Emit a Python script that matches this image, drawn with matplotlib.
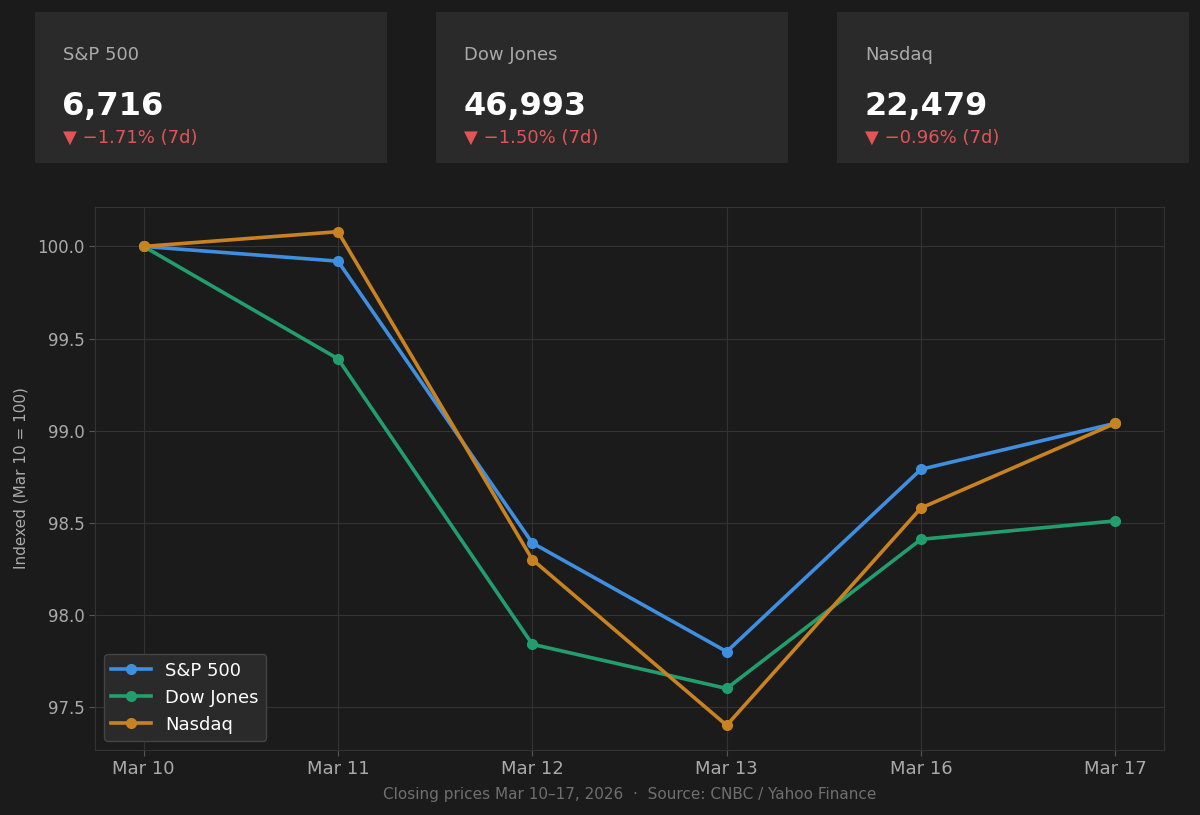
import matplotlib
matplotlib.use("Agg")
import matplotlib.pyplot as plt

plt.rcParams["font.family"] = ["DejaVu Sans"]

# ---------------------------------------------------------------------------
# Data
# ---------------------------------------------------------------------------
dates = ["Mar 10", "Mar 11", "Mar 12", "Mar 13", "Mar 16", "Mar 17"]
sp500 = [100.0, 99.92, 98.39, 97.80, 98.79, 99.04]
dow = [100.0, 99.39, 97.84, 97.60, 98.41, 98.51]
nasdaq = [100.0, 100.08, 98.30, 97.40, 98.58, 99.04]

card_names = ["S&P 500", "Dow Jones", "Nasdaq"]
card_values = ["6,716", "46,993", "22,479"]
card_changes = ["\u25bc \u22121.71% (7d)", "\u25bc \u22121.50% (7d)", "\u25bc \u22120.96% (7d)"]

BG = "#1b1b1b"
CARD = "#2a2a2a"
GRID = "#333333"
TXT = "#aaaaaa"
RED = "#e05555"
COLORS = {"S&P 500": "#3f8fe0", "Dow Jones": "#229e6e", "Nasdaq": "#c98222"}

W, H = 1200, 815
fig = plt.figure(figsize=(W / 100, H / 100), dpi=100, facecolor=BG)

# --- summary cards ---
card_left = [35, 436, 837]
for x0, name, val, chg in zip(card_left, card_names, card_values, card_changes):
    cax = fig.add_axes([x0 / W, 1 - 163 / H, 352 / W, 151 / H])
    cax.set_facecolor(CARD)
    cax.set_xlim(0, 352)
    cax.set_ylim(151, 0)
    cax.set_xticks([]); cax.set_yticks([])
    for s in cax.spines.values():
        s.set_visible(False)
    cax.text(28, 43, name, color=TXT, fontsize=13, va="center", ha="left")
    cax.text(27.5, 95, val, color="white", fontsize=23, fontweight="bold", va="center", ha="left")
    cax.text(28, 126, chg, color=RED, fontsize=13, va="center", ha="left")

# --- main chart ---
ax = fig.add_axes([95 / W, 65 / H, 1069 / W, 543 / H])
ax.set_facecolor(BG)
x = list(range(len(dates)))
for name, vals in [("S&P 500", sp500), ("Dow Jones", dow), ("Nasdaq", nasdaq)]:
    ax.plot(x, vals, color=COLORS[name], lw=2.6, marker="o", ms=7, label=name)

ax.set_xticks(x)
ax.set_xticklabels(dates)
ax.set_yticks([97.5, 98.0, 98.5, 99.0, 99.5, 100.0])
ax.tick_params(colors=TXT, length=4, color="#555555")
ax.tick_params(axis="x", labelsize=13)
ax.tick_params(axis="y", labelsize=12)
ax.grid(True, color=GRID, lw=0.8)
ax.set_axisbelow(True)
for s in ax.spines.values():
    s.set_color("#333333")
ax.set_ylabel("Indexed (Mar 10 = 100)", color=TXT, fontsize=11, labelpad=6)

leg = ax.legend(loc="lower left", fontsize=13, facecolor=CARD, edgecolor="#444444",
                labelcolor="white", framealpha=1.0, handlelength=2.2)

fig.text(629.5 / W, 1 - 795 / H, "Closing prices Mar 10\u201317, 2026  \u00b7  Source: CNBC / Yahoo Finance",
         color="#6f6f6f", fontsize=11, ha="center", va="center")

fig.savefig("out.png", dpi=100, facecolor=BG)
